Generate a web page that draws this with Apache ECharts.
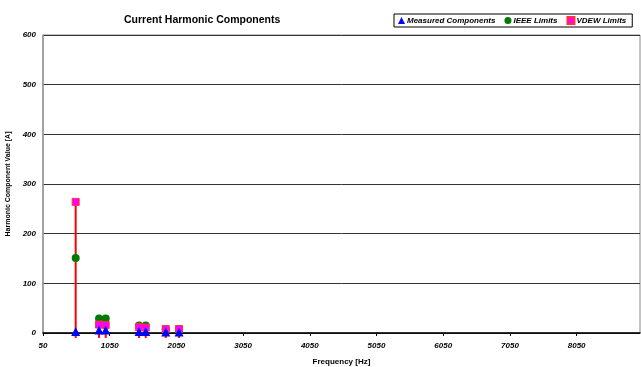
<!DOCTYPE html>
<html lang="en" style="height: 100%">
<head>
  <meta charset="UTF-8" />
  <title>Current Harmonic Components</title>
  <script src="https://cdn.jsdelivr.net/npm/echarts@6/dist/echarts.min.js"></script>
</head>
<body style="height: 100%; margin: 0; background: #fff">
  <div id="main" style="width: 641px; height: 367px"></div>
  <script type="text/javascript">
    // frequency of each harmonic [Hz]
    var freqs = [540, 890, 990, 1490, 1590, 1890, 2090];
    // values [A]
    var measured = [3, 6, 6, 3, 3, 2, 2];
    var ieee = [151, 29, 29, 15, 15, 8, 8];
    var vdew = [264, 17, 16, 12, 11, 8, 8];

    function pairs(vals) {
      return freqs.map(function (f, i) { return [f, vals[i]]; });
    }

    var font = 'Liberation Sans, Arial, sans-serif';
    var myChart = echarts.init(document.getElementById('main'));

    var option = {
      animation: false,
      title: {
        text: 'Current Harmonic Components',
        left: 119, top: 10,
        textStyle: { fontFamily: font, fontSize: 10.5, fontWeight: 'bold', color: '#000' }
      },
      legend: {
        data: ['Measured Components', 'IEEE Limits', 'VDEW Limits'],
        left: 394, top: 14,
        padding: [2, 6, 2, 4],
        itemGap: 9,
        itemWidth: 7, itemHeight: 7,
        borderColor: '#000', borderWidth: 1,
        textStyle: { fontFamily: font, fontSize: 8, fontWeight: 'bold', fontStyle: 'italic', color: '#000', padding: [0, 0, 0, -3] }
      },
      grid: {
        left: 43, right: 1, top: 35, bottom: 34,
        outerBoundsMode: 'none',
        containLabel: false,
        show: true, borderColor: '#888', borderWidth: 1
      },
      xAxis: {
        type: 'value',
        min: 50, max: 9000, interval: 1000,
        name: 'Frequency [Hz]',
        nameLocation: 'middle', nameGap: 25,
        nameTextStyle: { fontFamily: font, fontSize: 8, fontWeight: 'bold', color: '#000' },
        axisLine: { lineStyle: { color: '#000', width: 1.5 } },
        axisTick: { show: true, length: 3, lineStyle: { color: '#000' } },
        splitLine: { show: false },
        axisLabel: {
          showMaxLabel: false, margin: 9,
          formatter: function (v) { return String(v); },
          fontFamily: font, fontSize: 8, fontWeight: 'bold', fontStyle: 'italic', color: '#000'
        }
      },
      yAxis: {
        type: 'value',
        min: 0, max: 600, interval: 100,
        name: 'Harmonic Component Value [A]',
        nameLocation: 'middle', nameGap: 30,
        nameTextStyle: { fontFamily: font, fontSize: 7, fontWeight: 'bold', color: '#000' },
        axisLine: { show: true, lineStyle: { color: '#999', width: 1.5 } },
        axisTick: { show: false },
        splitLine: { lineStyle: { color: '#333', width: 1 } },
        axisLabel: {
          margin: 7,
          formatter: function (v) { return String(v); },
          fontFamily: font, fontSize: 8, fontWeight: 'bold', fontStyle: 'italic', color: '#000'
        }
      },
      series: [
        {
          type: 'custom',
          name: 'stems',
          data: pairs(vdew),
          z: 1,
          renderItem: function (params, api) {
            var x = api.value(0);
            var p0 = api.coord([x, -10]);
            var p1 = api.coord([x, api.value(1)]);
            return {
              type: 'line',
              shape: { x1: p0[0], y1: p0[1], x2: p1[0], y2: p1[1] },
              style: { stroke: '#ff0000', lineWidth: 2 }
            };
          }
        },
        {
          name: 'IEEE Limits',
          type: 'scatter',
          data: pairs(ieee),
          symbol: 'circle', symbolSize: 8,
          itemStyle: { color: '#007a00', opacity: 1 },
          z: 3
        },
        {
          name: 'VDEW Limits',
          type: 'scatter',
          data: pairs(vdew),
          symbol: 'rect', symbolSize: 7,
          itemStyle: { color: '#ff00ff', borderColor: '#ff3333', borderWidth: 1, opacity: 1 },
          z: 4
        },
        {
          name: 'Measured Components',
          type: 'scatter',
          data: pairs(measured),
          symbol: 'triangle', symbolSize: 9,
          itemStyle: { color: '#0000ff', opacity: 1 },
          z: 5
        }
      ]
    };

    myChart.setOption(option);
  </script>
</body>
</html>
